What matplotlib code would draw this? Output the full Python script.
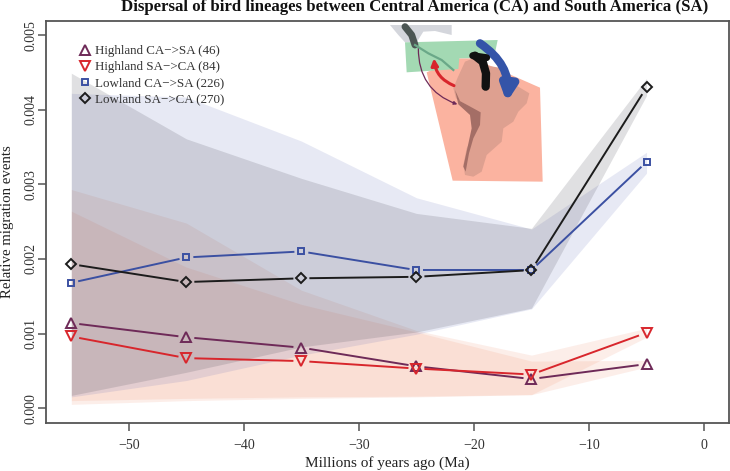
import matplotlib
matplotlib.use('Agg')
import matplotlib.pyplot as plt
from matplotlib.patches import Polygon, FancyArrowPatch
from matplotlib.lines import Line2D
import numpy as np

plt.rcParams['font.family'] = ['Liberation Serif', 'DejaVu Serif']

# Time bins (Ma)
ages = [-55, -45, -35, -25, -15, -5]

# Mean rates, in units of 0.001
highland_ca_sa = [1.14, 0.95, 0.81, 0.56, 0.39, 0.59]
highland_sa_ca = [0.96, 0.67, 0.63, 0.53, 0.45, 1.01]
lowland_ca_sa = [1.68, 2.02, 2.10, 1.85, 1.85, 3.30]
lowland_sa_ca = [1.93, 1.69, 1.74, 1.76, 1.85, 4.30]

# Bands around the means, same units
highland_ca_sa_low = [0.10, 0.13, 0.15, 0.16, 0.18, 0.55]
highland_ca_sa_high = [2.64, 1.89, 1.39, 1.02, 0.63, 0.64]
highland_sa_ca_low = [0.05, 0.10, 0.13, 0.15, 0.18, 0.95]
highland_sa_ca_high = [2.93, 2.48, 1.58, 1.04, 0.71, 1.07]
lowland_ca_sa_low = [0.15, 0.37, 0.71, 0.99, 1.33, 3.15]
lowland_ca_sa_high = [4.22, 4.17, 3.58, 2.82, 2.40, 3.43]
lowland_sa_ca_low = [0.17, 0.48, 0.82, 1.02, 1.34, 4.19]
lowland_sa_ca_high = [4.49, 3.61, 3.08, 2.61, 2.41, 4.42]

labels = ['Highland CA\u2212>SA (46)', 'Highland SA\u2212>CA (84)',
          'Lowland CA\u2212>SA (226)', 'Lowland SA\u2212>CA (270)']
x_ticks = [-50, -40, -30, -20, -10, 0]
y_ticks = [0.000, 0.001, 0.002, 0.003, 0.004, 0.005]

purple = '#6e2a58'
red = '#d8262c'
blue = '#3b50a2'
black = '#1c1c1c'
frame = '#555555'

# marker, size per series
styles = {'^': 6.6, 'v': 6.6, 's': 4.5, 'D': 4.6}

fig = plt.figure(figsize=(7.3, 4.71), dpi=100)
ax = fig.add_axes([46 / 730, 1 - 423 / 471, 683 / 730, 402 / 471])
ax.set_xlim(-57.2, 2.17)
ax.set_ylim(-0.0002, 0.00519)


def scaled(values):
    return np.array(values) / 1000


# Bands
ax.fill_between(ages, scaled(highland_sa_ca_low), scaled(highland_sa_ca_high),
                color='#ee7f55', alpha=0.13, lw=0)
ax.fill_between(ages, scaled(highland_ca_sa_low), scaled(highland_ca_sa_high),
                color='#ee7f55', alpha=0.13, lw=0)
ax.fill_between(ages, scaled(lowland_ca_sa_low), scaled(lowland_ca_sa_high),
                color='#4a55b0', alpha=0.13, lw=0)
ax.fill_between(ages, scaled(lowland_sa_ca_low), scaled(lowland_sa_ca_high),
                color='#40404c', alpha=0.16, lw=0)


def draw_series(values, color, marker, gap=8):
    # R type="b" look: the segments stop short of the markers
    pts = ax.transData.transform(np.column_stack([ages, scaled(values)]))
    inv = ax.transData.inverted()
    for a, b in zip(pts[:-1], pts[1:]):
        d = (b - a) / np.hypot(*(b - a))
        seg = inv.transform([a + d * gap, b - d * gap])
        ax.plot(seg[:, 0], seg[:, 1], color=color, lw=1.4, solid_capstyle='butt')
    ax.plot(ages, scaled(values), ls='none', marker=marker, ms=styles[marker], mew=1.4,
            mec=color, mfc='none')


draw_series(highland_ca_sa, purple, '^')
draw_series(highland_sa_ca, red, 'v')
draw_series(lowland_ca_sa, blue, 's', gap=7)
draw_series(lowland_sa_ca, black, 'D', gap=8)

# Frame and ticks
for s in ax.spines.values():
    s.set_color(frame)
    s.set_linewidth(1.3)
ax.set_xticks(x_ticks)
ax.set_xticklabels(['\u2212%d' % -t if t else '0' for t in x_ticks])
ax.set_yticks(y_ticks)
ax.set_yticklabels(['%.3f' % t for t in y_ticks], rotation=90, va='center')
ax.tick_params(axis='both', length=5.5, width=1.1, color=frame, labelsize=10,
               labelcolor='#333333')
ax.tick_params(axis='x', pad=5.7)
ax.tick_params(axis='y', pad=0.5)

fig.text(387 / 730, 1 - 463 / 471, 'Millions of years ago (Ma)', ha='center', va='center',
         fontsize=11, color='#222222')
fig.text(8 / 730, 1 - 222 / 471, 'Relative migration events', rotation=90, ha='center',
         va='center', fontsize=10.7, color='#222222')
fig.text(415 / 730, 1 - 7 / 471, 'Dispersal of bird lineages between Central America (CA) and South America (SA)',
         ha='center', va='center', fontsize=12.05, fontweight='bold', color='#111111')

# Legend
handles = [Line2D([], [], ls='none', marker=m, ms=styles[m], mew=1.4, mec=c, mfc='none')
           for m, c in zip(['^', 'v', 's', 'D'], [purple, red, blue, black])]
ax.legend(handles, labels, loc='upper left', bbox_to_anchor=(29 / 683, 1 - 24 / 402),
          frameon=False, fontsize=9.4, labelspacing=0.3, handletextpad=0.0,
          borderpad=0, borderaxespad=0, handlelength=1.5, labelcolor='#333333')

# Inset map sketch, drawn in pixel space of the reference
mp = fig.add_axes([0, 0, 1, 1], facecolor='none')
mp.set_xlim(0, 730)
mp.set_ylim(471, 0)
mp.axis('off')


def px(points):
    # zoomed crop coordinates to figure pixels
    return [(370 + x / 3, 15 + y / 3) for x, y in points]


land_north = [(60, 30), (245, 30), (245, 60), (195, 48), (160, 50), (140, 82), (105, 82), (85, 60)]
salmon_box = [(170, 172), (265, 130), (310, 130), (510, 218), (518, 500), (248, 497)]
green_box = [(105, 82), (383, 75), (372, 128), (268, 130), (265, 162), (110, 172)]
south_america = [(262, 190), (285, 140), (310, 130), (340, 150), (400, 160), (420, 200), (478, 235),
                 (470, 265), (445, 290), (430, 320), (400, 340), (395, 380), (350, 420), (335, 470),
                 (310, 485), (285, 480), (280, 450), (290, 400), (320, 340), (325, 300), (290, 270),
                 (258, 250), (250, 220)]
andes = [(255, 225), (270, 258), (332, 292), (330, 330), (310, 370), (297, 415), (287, 470), (280, 455),
         (292, 400), (305, 340), (300, 300), (265, 268)]

mp.add_patch(Polygon(px(land_north), color='#d4d6dc', lw=0))
mp.add_patch(Polygon(px(salmon_box), color='#fbb3a0', lw=0))
mp.add_patch(Polygon(px(green_box), color='#a3d9b3', lw=0))
mp.add_patch(Polygon(px(south_america), color='#dea090', lw=0))
mp.add_patch(Polygon(px(andes), color='#a46e66', lw=0))
mexico = px([(105, 35), (125, 60), (135, 90), (175, 115), (215, 135), (250, 165)])
mp.plot(*zip(*mexico[:3]), color='#4c5654', lw=5, solid_capstyle='round')
mp.plot(*zip(*mexico[2:]), color='#6aa888', lw=1.6)


def arrow(start, end, rad, color, lw, head):
    a, b = px([start, end])
    mp.add_patch(FancyArrowPatch(a, b, connectionstyle='arc3,rad=%s' % rad, color=color, lw=lw,
                                 arrowstyle='-|>', mutation_scale=head, shrinkA=0, shrinkB=0))


arrow((145, 100), (262, 268), 0.35, purple, 0.9, 5)
arrow((252, 212), (192, 130), -0.3, red, 2.2, 10)
arrow((330, 85), (410, 262), -0.3, '#3454a8', 6, 22)

# black arrow is a fat stroke ending in a blob
stroke = px([(347, 215), (348, 175), (338, 140), (315, 122)])
mp.plot(*zip(*stroke), color='#111111', lw=6, solid_capstyle='round', solid_joinstyle='round')
blob = px([(308, 122), (350, 128)])
mp.plot(*zip(*blob), color='#111111', lw=5, solid_capstyle='round')

fig.savefig('out.png', dpi=100)
